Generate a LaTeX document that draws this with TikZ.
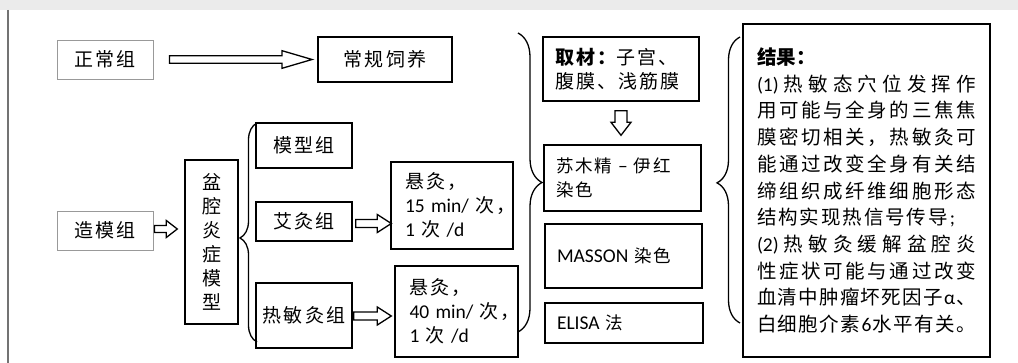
\documentclass[tikz,border=0pt]{standalone}
\usepackage{fontspec}
\setmainfont{Noto Sans CJK SC}
\newfontfamily\cjk{Noto Sans CJK SC}[LetterSpace=11]
\newfontfamily\lat{Carlito}
\usetikzlibrary{calc,decorations.pathreplacing}
\newcommand\la[1]{{\lat\fontsize{19.5}{24}\selectfont #1}}
\makeatletter
\newcommand\spreadline[2]{\leavevmode\hbox to #1{\@tfor\sl@item:=#2\do{{\sl@item}\hfil}\unskip}}
\makeatother
\tikzset{
  base/.style={draw, line width=1.4pt, inner sep=0pt, font={\cjk\fontsize{19}{24}\selectfont}},
  thinbox/.style={base, draw=black!40, line width=0.8pt},
  thickbox/.style={base, line width=1.9pt},
  lbox/.style={base, align=left, text width=#1, inner xsep=12pt},
  smallfont/.style={font={\cjk\fontsize{17.5}{24}\selectfont}},
  hollow/.style n args={3}{line width=1.3pt, fill=white, to path={
    let \p1=(\tikztostart), \p2=(\tikztotarget) in
    (\x1,\y1+#1pt) -- (\x2-#3pt,\y1+#1pt) -- (\x2-#3pt,\y1+#2pt) -- (\x2,\y1)
    -- (\x2-#3pt,\y1-#2pt) -- (\x2-#3pt,\y1-#1pt) -- (\x1,\y1-#1pt) -- cycle}},
  vhollow/.style n args={3}{line width=1.3pt, fill=white, to path={
    let \p1=(\tikztostart), \p2=(\tikztotarget) in
    (\x1-#1pt,\y1) -- (\x1-#1pt,\y2+#3pt) -- (\x1-#2pt,\y2+#3pt) -- (\x1,\y2)
    -- (\x1+#2pt,\y2+#3pt) -- (\x1+#1pt,\y2+#3pt) -- (\x1+#1pt,\y1) -- cycle}},
  curly/.style 2 args={decorate, decoration={brace, amplitude=#1pt, aspect=#2}, line width=1.3pt}
}
\begin{document}
\begin{tikzpicture}[x=1pt,y=-1pt]
\useasboundingbox (0,0) rectangle (1018,363);
\fill[black!8] (0,0) rectangle (1018,10);
\draw[line width=1.5pt, black!55] (8,10) -- (8,363);

% left column
\node[thinbox, minimum width=96pt, minimum height=39pt] (zc) at (105,59.5) {正常组};
\node[thickbox, minimum width=134pt, minimum height=45pt] (cg) at (385,59.5) {常规饲养};
\node[thinbox, minimum width=96pt, minimum height=39pt] (zm) at (105,230.5) {造模组};
\node[base, minimum width=53pt, minimum height=164pt, align=center] (pq) at (211.5,242) {盆\\腔\\炎\\症\\模\\型};
\node[base, minimum width=96pt, minimum height=45pt] (mx) at (304,145.5) {模型组};
\node[base, minimum width=96pt, minimum height=39pt] (aj) at (304,221.5) {艾灸组};
\node[base, minimum width=96pt, minimum height=65pt] (rm) at (304,315.5) {热敏灸组};
\node[lbox=94pt, inner xsep=14pt, minimum height=87pt] (x1) at (452,205.5)
  {\mbox{悬灸，}\\\mbox{\la{15 min/ }次，}\\\mbox{\la{1 }次\la{ /d}}};
\node[lbox=94pt, inner xsep=14.5pt, minimum height=91pt] (x2) at (456.5,311.5)
  {\mbox{悬灸，}\\\mbox{\la{40 min/ }次，}\\\mbox{\la{1 }次\la{ /d}}};

% middle column
\node[lbox=132pt, minimum height=64pt] (qc) at (621,69) {{\bfseries 取材：}子宫、\\腹膜、浅筋膜};
\node[lbox=133pt, smallfont, minimum height=66pt] (sm) at (622.5,178) {苏木精\la{ – }伊红\\染色};
\node[lbox=133pt, smallfont, minimum height=64pt] (ms) at (623.5,256) {\la{MASSON }染色};
\node[lbox=134pt, smallfont, minimum height=40pt] (el) at (624,323) {\la{ELISA }法};

% result
\node[thickbox, text width=219pt, inner xsep=14pt, minimum height=333pt, align=left,
      font={\fontsize{19.5}{26.7}\selectfont}] (res) at (866.5,190.5) {%
{\bfseries 结果：}\\
\spreadline{219pt}{{\la{(1)}}热敏态穴位发挥作}\\
\spreadline{219pt}{用可能与全身的三焦焦}\\
\spreadline{219pt}{膜密切相关，热敏灸可}\\
\spreadline{219pt}{能通过改变全身有关结}\\
\spreadline{219pt}{缔组织成纤维细胞形态}\\
\spreadline{198pt}{结构实现热信号传导{\la{;}}}\\
\spreadline{219pt}{{\la{(2)}}热敏灸缓解盆腔炎}\\
\spreadline{219pt}{性症状可能与通过改变}\\
\spreadline{219pt}{血清中肿瘤坏死因子{\la{α}}、}\\
\spreadline{219pt}{白细胞介素{\la{6}}水平有关。}\\[6pt]};

% hollow arrows
\coordinate (a1s) at ($(zc.east)+(16,0)$);
\coordinate (a1e) at ($(cg.west)+(-5,0)$);
\draw[hollow={3.7}{8.8}{30}] (a1s) to (a1e);
\coordinate (a2s) at ($(zm.east)+(1,-1.5)$);
\coordinate (a2e) at ($(pq.west)+(-7,0)$);
\draw[hollow={3.5}{8.5}{11}] (a2s) to (a2e);
\coordinate (a3s) at ($(aj.east)+(3,2)$);
\coordinate (a3e) at ($(x1.west)+(1,0)$);
\draw[hollow={4}{9}{14}] (a3s) to (a3e);
\coordinate (a4s) at ($(rm.east)+(1,0.5)$);
\coordinate (a4e) at ($(x2.west)+(-3,0)$);
\draw[hollow={4}{9}{14}] (a4s) to (a4e);
\coordinate (a5s) at ($(qc.south)+(0,9)$);
\coordinate (a5e) at ($(sm.north)+(0,-9)$);
\draw[vhollow={6}{10}{13}] (a5s) to (a5e);

% braces
\draw[curly={17}{0.475}] (257,342) -- (257,123);
\draw[curly={24}{0.5}] (518,33) -- (518,332);
\draw[curly={23}{0.49}] (740,323) -- (740,37);
\end{tikzpicture}
\end{document}
